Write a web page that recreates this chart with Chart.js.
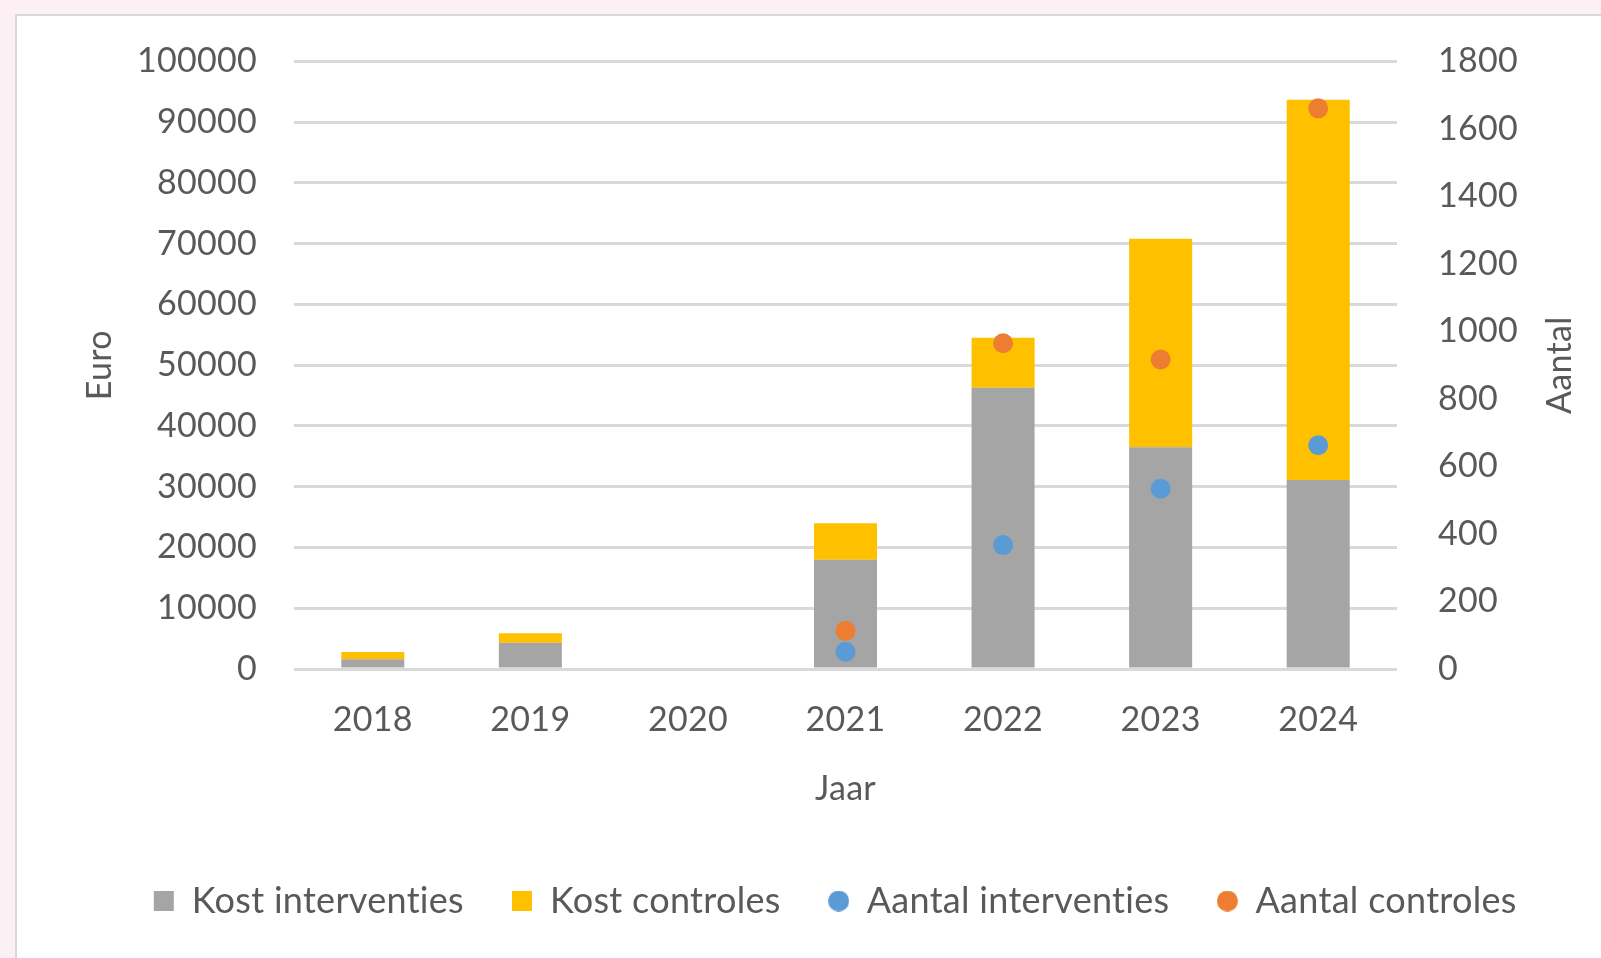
<!DOCTYPE html>
<html>
<head>
<meta charset="utf-8">
<title>Kosten en aantallen per jaar</title>
<script src="https://cdn.jsdelivr.net/npm/chart.js@4.4.1/dist/chart.umd.min.js"></script>
<style>
    html, body { margin: 0; padding: 0; overflow: hidden; background: #fcf0f5; }
    #panel {
        position: absolute; left: 15px; top: 14px; width: 1600px; height: 960px;
        background: #fff; border-left: 2px solid #d9d9d9; border-top: 2px solid #d9d9d9;
    }
    #chart { position: absolute; left: 0; top: 0; }
</style>
</head>
<body>
<div id="panel"></div>
<canvas id="chart" width="1601" height="958"></canvas>
<script>
var jaren = ['2018', '2019', '2020', '2021', '2022', '2023', '2024'];
var kostInterventies = [1600, 4300, 0, 18000, 46300, 36500, 31100];
var kostControles = [1200, 1600, 0, 6000, 8200, 34300, 62600];
var aantalInterventies = [null, null, null, 51, 367, 534, 663];
var aantalControles = [null, null, null, 113, 965, 917, 1661];

var textColor = '#595959';
var gridColor = '#d9d9d9';
var fontFamily = 'Lato, "Open Sans", sans-serif';

// plain numbers on the value axes, no thousands separator
function plainNumber(value) {
    return String(value);
}

// round legend marker, same size as the square ones
function legendDot(color) {
    var c = document.createElement('canvas');
    c.width = 21;
    c.height = 21;
    var g = c.getContext('2d');
    g.fillStyle = color;
    g.beginPath();
    g.arc(10.5, 10.5, 10.5, 0, Math.PI * 2);
    g.fill();
    return c;
}

function legendLabels(chart) {
    var items = Chart.defaults.plugins.legend.labels.generateLabels(chart);
    items.forEach(function(item) {
        var ds = chart.data.datasets[item.datasetIndex];
        if (ds.type === 'line') {
            item.pointStyle = legendDot(ds.backgroundColor);
        }
    });
    return items;
}

// a touch of letter spacing keeps Lato from joining "ti" into a ligature
var noLigatures = {
    id: 'noLigatures',
    beforeDraw: function(chart) {
        chart.ctx.letterSpacing = '0.3px';
    }
};

// Excel-style secondary axis title, reading bottom to top
var aantalTitle = {
    id: 'aantalTitle',
    afterDraw: function(chart) {
        var ctx = chart.ctx;
        var area = chart.chartArea;
        ctx.save();
        ctx.translate(1560, (area.top + area.bottom) / 2);
        ctx.rotate(-Math.PI / 2);
        ctx.font = '34px ' + fontFamily;
        ctx.fillStyle = textColor;
        ctx.textAlign = 'center';
        ctx.textBaseline = 'middle';
        ctx.fillText('Aantal', 0, 0);
        ctx.restore();
    }
};

var config = {
    data: {
        labels: jaren,
        datasets: [{
            type: 'bar',
            label: 'Kost interventies',
            data: kostInterventies,
            backgroundColor: '#a5a5a5',
            pointStyle: 'rect',
            yAxisID: 'y',
            order: 1
        }, {
            type: 'bar',
            label: 'Kost controles',
            data: kostControles,
            backgroundColor: '#ffc000',
            pointStyle: 'rect',
            yAxisID: 'y',
            order: 1
        }, {
            type: 'line',
            label: 'Aantal interventies',
            data: aantalInterventies,
            showLine: false,
            backgroundColor: '#5b9bd5',
            borderColor: '#5b9bd5',
            borderWidth: 0,
            pointRadius: 10,
            pointHoverRadius: 10,
            pointStyle: 'circle',
            yAxisID: 'y1',
            order: 0
        }, {
            type: 'line',
            label: 'Aantal controles',
            data: aantalControles,
            showLine: false,
            backgroundColor: '#ed7d31',
            borderColor: '#ed7d31',
            borderWidth: 0,
            pointRadius: 10,
            pointHoverRadius: 10,
            pointStyle: 'circle',
            yAxisID: 'y1',
            order: 0
        }]
    },
    options: {
        responsive: false,
        animation: false,
        datasets: {
            bar: { categoryPercentage: 1, barPercentage: 0.4 }
        },
        layout: { padding: { left: 51, top: 61, right: 0, bottom: 29 } },
        plugins: {
            tooltip: { enabled: false },
            legend: {
                position: 'bottom',
                labels: {
                    usePointStyle: true,
                    pointStyleWidth: 20,
                    boxHeight: 20,
                    padding: 48,
                    color: textColor,
                    font: { family: fontFamily, size: 36 },
                    generateLabels: legendLabels,
                    sort: function(a, b) { return a.datasetIndex - b.datasetIndex; }
                }
            }
        },
        scales: {
            x: {
                stacked: true,
                grid: { display: false },
                border: { display: false },
                ticks: { color: textColor, padding: 23, font: { family: fontFamily, size: 34 } },
                title: {
                    display: true, text: 'Jaar', color: textColor,
                    padding: { top: 0, bottom: 26 },
                    font: { family: fontFamily, size: 34 }
                },
                afterFit: function(scale) { scale.height = 166; }
            },
            y: {
                stacked: true,
                position: 'left',
                min: 0,
                max: 100000,
                grid: { color: gridColor, lineWidth: 3, drawTicks: false },
                border: { display: false },
                ticks: {
                    stepSize: 10000, color: textColor, padding: 37,
                    font: { family: fontFamily, size: 34 }, callback: plainNumber
                },
                title: {
                    display: true, text: 'Euro', color: textColor,
                    padding: { top: 29, bottom: 0 },
                    font: { family: fontFamily, size: 34 }
                },
                afterFit: function(scale) { scale.width = 243; }
            },
            y1: {
                position: 'right',
                min: 0,
                max: 1800,
                grid: { drawOnChartArea: false, drawTicks: false },
                border: { display: false },
                ticks: {
                    stepSize: 200, color: textColor, padding: 41,
                    font: { family: fontFamily, size: 34 }, callback: plainNumber
                },
                afterFit: function(scale) { scale.width = 204; }
            }
        }
    },
    plugins: [noLigatures, aantalTitle]
};

var ctx = document.getElementById('chart').getContext('2d');
window.kostenChart = new Chart(ctx, config);
</script>
</body>
</html>
